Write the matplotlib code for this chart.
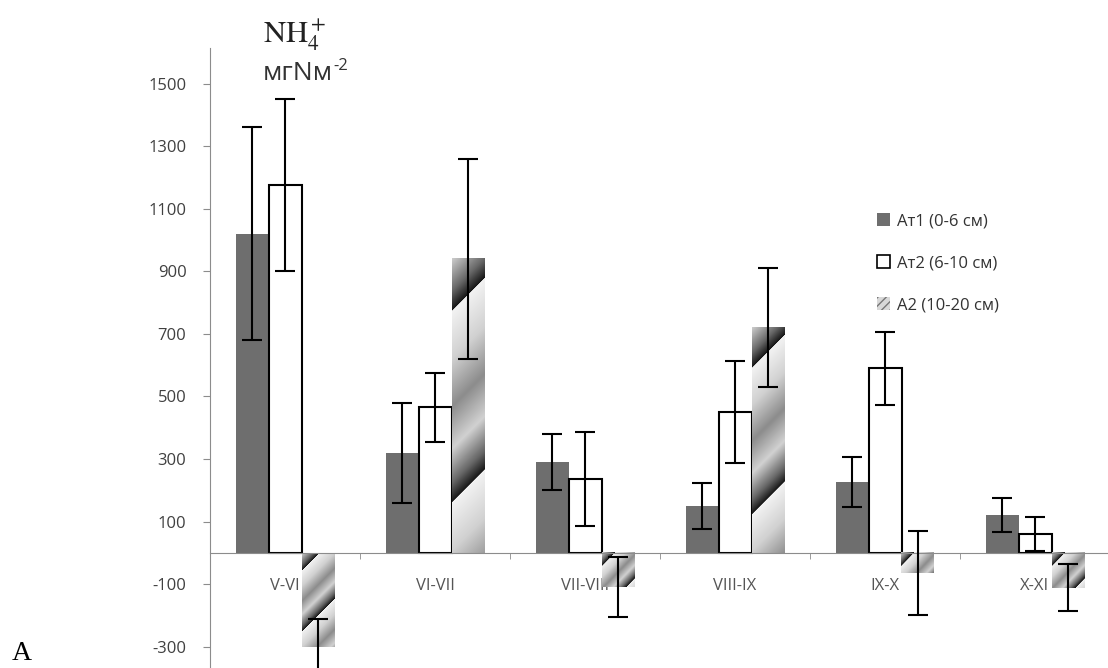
import numpy as np
import matplotlib.pyplot as plt
from matplotlib.patches import Patch

plt.rcParams['font.family'] = ['Open Sans', 'DejaVu Sans']
plt.rcParams['mathtext.fontset'] = 'stix'
plt.rcParams['axes.unicode_minus'] = False

# data
periods = ['V-VI', 'VI-VII', 'VII-VIII', 'VIII-IX', 'IX-X', 'X-XI']
at1 = [1020, 320, 290, 150, 227, 122]
at1_err = [340, 160, 90, 73, 80, 55]
at2 = [1175, 465, 235, 450, 590, 60]
at2_err = [275, 110, 150, 162, 117, 55]
a2 = [-300, 940, -110, 720, -65, -112]
a2_err = [89, 320, 96, 190, 135, 75]
series_labels = ['Ат1 (0-6 см)', 'Ат2 (6-10 см)', 'А2 (10-20 см)']
yticks = np.arange(-300, 1501, 200)

fig = plt.figure(figsize=(11.08, 6.68), dpi=100)
ax = fig.add_axes([210 / 1108, 0, 900 / 1108, 620 / 668])

x = np.arange(len(periods))
w = 0.22
ekw = dict(fmt='none', ecolor='black', elinewidth=1.5, capsize=7, capthick=1.5, zorder=3)

ax.bar(x - w, at1, w, color='#6e6e6e', zorder=1)
ax.errorbar(x - w, at1, yerr=at1_err, **ekw)
ax.bar(x, at2, w, facecolor='white', edgecolor='black', linewidth=1.5, zorder=1)
ax.errorbar(x, at2, yerr=at2_err, **ekw)
a2_bars = ax.bar(x + w, a2, w, color='none', linewidth=0, zorder=1)
ax.errorbar(x + w, a2, yerr=a2_err, **ekw)

ax.set_xlim(-0.5, 5.5)
ax.set_ylim(-368, 1614)

# diagonal gradient fill for the A2 bars (pattern scaled to each bar, like Excel)
tp = [0, 0.25, 0.5, 0.72, 0.9, 1.0]
vp = [0.95, 0.82, 0.55, 0.82, 0.4, 0.08]
for b in a2_bars:
    x0, y0 = b.get_x(), b.get_y()
    x1, y1 = x0 + b.get_width(), y0 + b.get_height()
    ytop = max(y0, y1)
    ybot = min(y0, y1)
    (px0, py0), (px1, py1) = ax.transData.transform([(x0, ybot), (x1, ytop)])
    wpx = max(int(round(px1 - px0)), 2)
    hpx = max(int(round(py1 - py0)), 2)
    period = max(0.65 * hpx, 45)
    rr, cc = np.mgrid[0:hpx, 0:wpx]
    t = ((cc + rr) / period + 0.73) % 1.0
    shade = np.interp(t, tp, vp)
    ax.imshow(shade, cmap='gray', vmin=0, vmax=1, extent=[x0, x1, ybot, ytop],
              aspect='auto', origin='upper', interpolation='bilinear', zorder=1)

ax.set_xlim(-0.5, 5.5)
ax.set_ylim(-368, 1614)
ax.set_axisbelow(True)

for s in ['top', 'right']:
    ax.spines[s].set_visible(False)
ax.spines['left'].set_color('#8c8c8c')
ax.spines['bottom'].set_color('#8c8c8c')
ax.spines['bottom'].set_position(('data', 0))

ax.set_yticks(yticks)
ax.tick_params(axis='y', direction='out', length=5, color='#8c8c8c',
               labelsize=12, labelcolor='#404040', pad=12)
ax.set_xticks(x)
ax.set_xticklabels(periods)
ax.set_xticks(x[:-1] + 0.5, minor=True)
ax.tick_params(axis='x', which='major', length=0, labelsize=12,
               labelcolor='#555555', pad=18)
ax.tick_params(axis='x', which='minor', direction='out', length=4, color='#8c8c8c')

handles = [Patch(facecolor='#6e6e6e'),
           Patch(facecolor='white', edgecolor='black', linewidth=1.2),
           Patch(facecolor='#d8d8d8', edgecolor='#777777', hatch='////', linewidth=0)]
fig.legend(handles, series_labels, loc='upper left', bbox_to_anchor=(862 / 1108, 1 - 198 / 668),
           frameon=False, fontsize=12, handlelength=0.8, handleheight=0.8,
           handletextpad=0.4, labelspacing=1.55, labelcolor='#333333')

fig.text(263 / 1108, 1 - 43 / 668, r'$\mathrm{NH}_4^+$', fontsize=22, color='#222222', va='baseline')
t1 = fig.text(263 / 1108, 1 - 80 / 668, 'мгNм', fontsize=19, color='#333333', va='baseline')
ax.annotate('-2', xy=(1, 0.8), xycoords=t1, fontsize=12, color='#333333', va='center')
fig.text(12 / 1108, 2 / 668, 'A', fontsize=20, family='Liberation Serif', va='bottom')

fig.savefig('out.png', dpi=100)
